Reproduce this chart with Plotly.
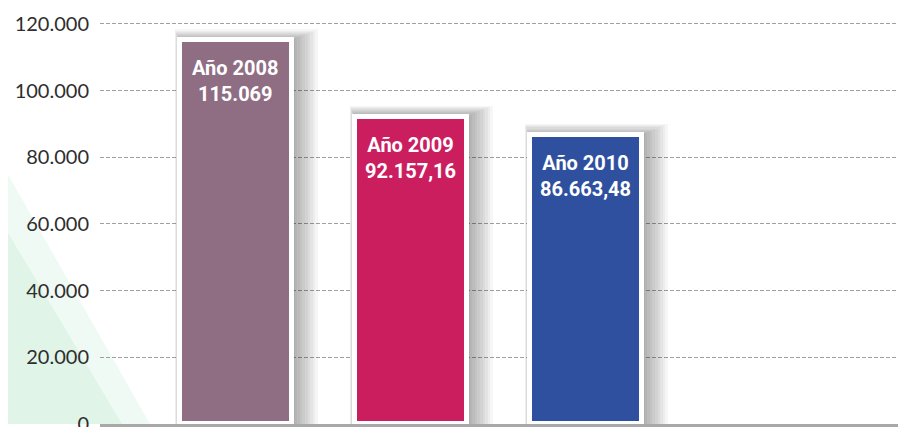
import plotly.graph_objects as go

categories = ["Año 2008", "Año 2009", "Año 2010"]
values = [115069, 92157.16, 86663.48]
value_labels = ["115.069", "92.157,16", "86.663,48"]
bar_colors = ["#8F6E84", "#CB1E5F", "#2F509E"]
tick_vals = [0, 20000, 40000, 60000, 80000, 100000, 120000]
tick_text = ["0", "20.000", "40.000", "60.000", "80.000", "100.000", "120.000"]

# page body has an 8px default margin; layout is compensated for it
W, H = 898, 427
ML, MR, MT, MB = 92, 0, 0, 9
xmin, xmax = -0.777, 3.829
ymax = 124776
pw = W - ML - MR
px_per_unit = pw / (xmax - xmin)
py_per_unit = (H - MT - MB) / ymax
bar_w = 112 / px_per_unit

fig = go.Figure()

# soft drop shadow layers (mostly to the right and top)
for k in range(1, 11):
    left = 0.5 * k
    right = 2.6 * k
    top = 1.1 * k
    fig.add_trace(go.Bar(
        x=categories, y=[v + top / py_per_unit for v in values],
        width=bar_w + (left + right) / px_per_unit,
        offset=-bar_w / 2 - left / px_per_unit,
        marker=dict(color="rgba(0,0,0,0.035)", line=dict(width=0)),
        hoverinfo="skip", showlegend=False,
    ))

fig.add_trace(go.Bar(
    x=categories, y=values, width=bar_w,
    marker=dict(color=bar_colors, line=dict(color="white", width=5)),
    showlegend=False,
))

for i, (c, v, lab) in enumerate(zip(categories, values, value_labels)):
    fig.add_annotation(
        x=i, y=v, xref="x", yref="y", yanchor="top", yshift=-14, showarrow=False,
        text=f"<b>{c}</b><br><b>{lab}</b>",
        font=dict(family="Roboto", size=20, color="white", weight=900),
        align="center",
    )

# green decorative background wedges
fig.add_shape(
    type="path", xref="paper", yref="paper", layer="below",
    path=f"M {-ML/pw} 0.60 L {50/pw} 0 L {-ML/pw} 0 Z",
    fillcolor="rgba(222,243,231,0.45)", line=dict(width=0),
)
fig.add_shape(
    type="path", xref="paper", yref="paper", layer="below",
    path=f"M {-ML/pw} 0.46 L {22/pw} 0 L {-ML/pw} 0 Z",
    fillcolor="rgba(214,240,224,0.6)", line=dict(width=0),
)

fig.update_layout(
    width=W, height=H,
    margin=dict(l=ML, r=MR, t=MT, b=MB),
    plot_bgcolor="rgba(0,0,0,0)", paper_bgcolor="white",
    barmode="overlay", bargap=0,
    xaxis=dict(type="category", range=[xmin, xmax], showticklabels=False,
               showgrid=False, zeroline=False, showline=True,
               linecolor="#A8A8A8", linewidth=3, fixedrange=True),
    yaxis=dict(range=[0, ymax], tickvals=tick_vals, ticktext=tick_text,
               showgrid=True, gridcolor="#A0A0A0", griddash="4px,2px", gridwidth=1,
               zeroline=False, ticks="", ticklabelstandoff=10,
               ticklabeloverflow="allow",
               tickfont=dict(family="Lato", size=20, color="#2E2E2E")),
)

fig.write_html("out.html")
